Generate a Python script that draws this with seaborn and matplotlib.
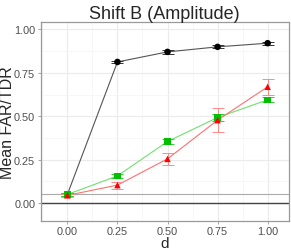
import numpy as np
import pandas as pd
import seaborn as sns
import matplotlib
matplotlib.use("Agg")
import matplotlib.pyplot as plt
from matplotlib.ticker import MultipleLocator

# values
d = [0.00, 0.25, 0.50, 0.75, 1.00]
black_mean = [0.05, 0.813, 0.871, 0.900, 0.921]
black_err = [0.008, 0.008, 0.010, 0.008, 0.008]
green_mean = [0.05, 0.157, 0.355, 0.493, 0.595]
green_err = [0.008, 0.012, 0.013, 0.020, 0.015]
red_mean = [0.045, 0.104, 0.255, 0.478, 0.670]
red_err = [0.008, 0.020, 0.036, 0.070, 0.045]

series = ["black", "green", "red"]
df = pd.concat([
    pd.DataFrame({"d": d, "mean": black_mean, "err": black_err, "method": "black"}),
    pd.DataFrame({"d": d, "mean": green_mean, "err": green_err, "method": "green"}),
    pd.DataFrame({"d": d, "mean": red_mean, "err": red_err, "method": "red"}),
])

sns.set_theme(style="whitegrid")
plt.rcParams["font.family"] = ["Liberation Sans", "DejaVu Sans"]

fig, ax = plt.subplots(figsize=(2.91, 2.51), dpi=100)
fig.subplots_adjust(left=0.14, right=0.992, top=0.909, bottom=0.114)

line_col = {"black": "#555555", "green": "#70E070", "red": "#FF7070"}
pt_col = {"black": "#000000", "green": "#00C000", "red": "#FF0000"}
err_col = {"black": "#333333", "green": "#33CC33", "red": "#FF8888"}
marks = {"black": "o", "green": "s", "red": "^"}

ax.axhline(0.0, color="#444444", lw=1.0, zorder=1)
ax.axhline(0.05, color="#AAAAAA", lw=0.8, zorder=1)

sns.lineplot(data=df, x="d", y="mean", hue="method", palette=line_col,
             lw=0.8, legend=False, ax=ax, zorder=2)
for m in series:
    sub = df[df["method"] == m]
    ax.errorbar(sub["d"], sub["mean"], yerr=sub["err"], fmt="none",
                ecolor=err_col[m], elinewidth=0.7, capsize=4.5, capthick=0.7,
                zorder=3)
sns.scatterplot(data=df, x="d", y="mean", hue="method", style="method",
                palette=pt_col, markers=marks, s=22, edgecolor="none",
                legend=False, ax=ax, zorder=4)

ax.set_xlim(-0.133, 1.105)
ax.set_ylim(-0.105, 1.044)
ax.set_xticks(d)
ax.set_xticklabels(["0.00", "0.25", "0.50", "0.75", "1.00"])
ax.set_yticks([0.0, 0.25, 0.5, 0.75, 1.0])
ax.set_yticklabels(["0.00", "0.25", "0.50", "0.75", "1.00"])
ax.xaxis.set_minor_locator(MultipleLocator(0.125))
ax.yaxis.set_minor_locator(MultipleLocator(0.125))
ax.grid(which="major", color="#EBEBEB", lw=0.8)
ax.grid(which="minor", color="#F4F4F4", lw=0.5)
ax.tick_params(axis="both", labelsize=7.8, labelcolor="#4D4D4D", length=2.5,
               color="#999999", width=0.6, pad=1.5, bottom=True, left=True)
ax.tick_params(axis="x", pad=0.8)
for s in ax.spines.values():
    s.set_color("#999999")
    s.set_linewidth(0.9)

ax.set_title("Shift B (Amplitude)", fontsize=13, pad=3)
ax.set_xlabel("d", fontsize=11)
ax.set_ylabel("Mean FAR/TDR", fontsize=11.5)
ax.yaxis.set_label_coords(-0.102, 0.5)
ax.xaxis.set_label_coords(0.5, -0.074)

plt.savefig("out.png", dpi=100)
